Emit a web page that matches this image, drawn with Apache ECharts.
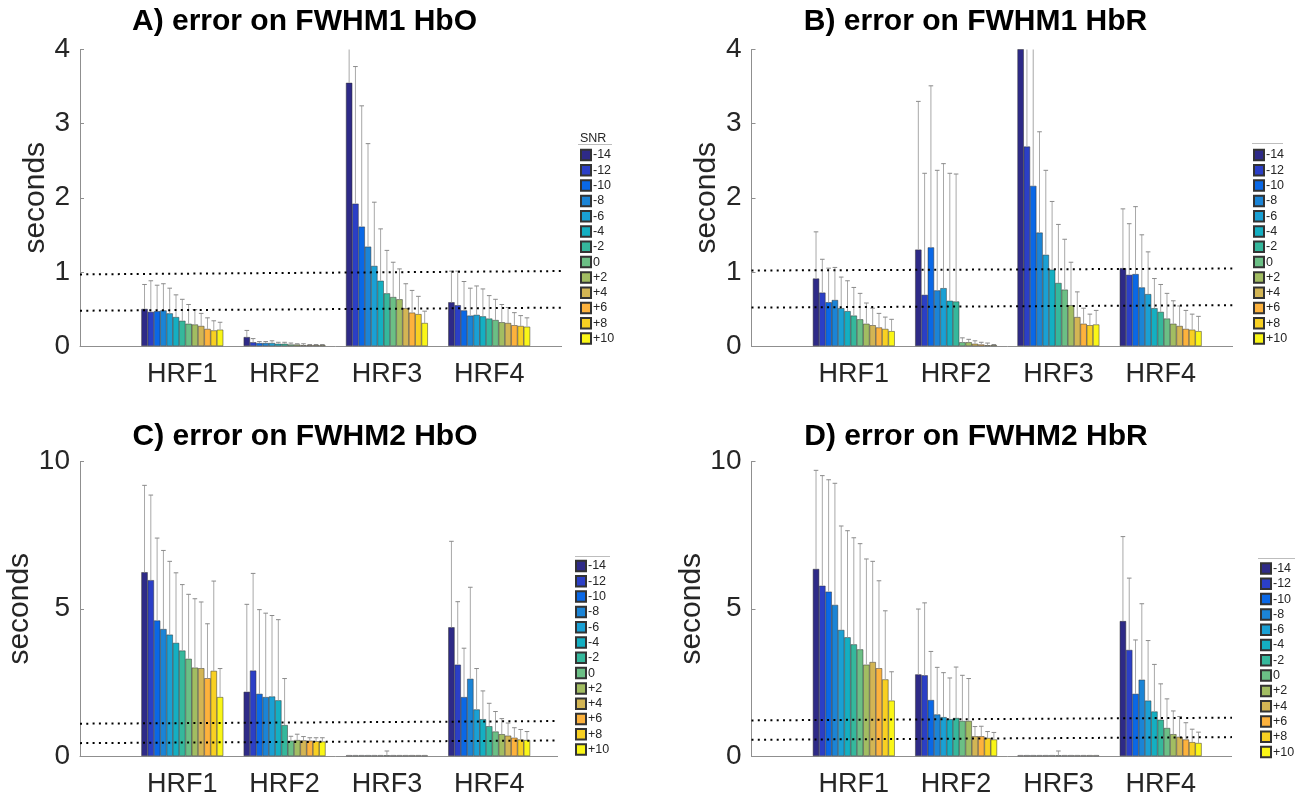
<!DOCTYPE html>
<html><head><meta charset="utf-8">
<script src="https://cdn.jsdelivr.net/npm/echarts@6/dist/echarts.min.js"></script>
<style>html,body{margin:0;padding:0;background:#fff}#c{width:1303px;height:798px}</style>
</head><body><div id="c"></div>
<script>
// ---------------- data ----------------
const categories = ['', 'HRF1', 'HRF2', 'HRF3', 'HRF4', ''];
const snrLevels = ['-14','-12','-10','-8','-6','-4','-2','0','+2','+4','+6','+8','+10'];
const panelTitles = ['A) error on FWHM1 HbO', 'B) error on FWHM1 HbR', 'C) error on FWHM2 HbO', 'D) error on FWHM2 HbR'];
const yAxisName = 'seconds';
const yRangeFWHM1 = [0, 4, 1];   // min, max, tick step
const yRangeFWHM2 = [0, 10, 5];

// mean error per HRF (rows HRF1..HRF4), 13 SNR levels each
const meanA = [
  [0.50,0.46,0.47,0.48,0.44,0.39,0.34,0.30,0.29,0.27,0.23,0.21,0.22],
  [0.12,0.05,0.04,0.04,0.04,0.03,0.03,0.02,0.02,0.01,0.01,0.01,0.01],
  [3.55,1.92,1.61,1.34,1.08,0.88,0.71,0.66,0.63,0.51,0.45,0.43,0.31],
  [0.59,0.55,0.48,0.41,0.42,0.40,0.37,0.35,0.32,0.31,0.28,0.27,0.26]
];
const errA = [
  [0.33,0.42,0.35,0.36,0.34,0.30,0.29,0.26,0.20,0.17,0.15,0.13,0.10],
  [0.09,0.05,0.02,0.02,0.03,0.02,0.02,0.02,0.01,0.02,0.01,0.01,0.01],
  [0.65,1.85,1.63,1.39,0.86,0.70,0.58,0.47,0.41,0.33,0.30,0.24,0.16],
  [0.42,0.46,0.39,0.37,0.39,0.37,0.31,0.28,0.24,0.21,0.17,0.14,0.12]
];
const meanB = [
  [0.91,0.72,0.59,0.62,0.51,0.47,0.41,0.36,0.30,0.28,0.25,0.23,0.20],
  [1.30,0.69,1.33,0.75,0.78,0.61,0.60,0.05,0.05,0.03,0.02,0.01,0.01],
  [4.40,2.69,2.16,1.53,1.23,1.03,0.85,0.76,0.55,0.39,0.30,0.28,0.29],
  [1.05,0.96,0.97,0.79,0.70,0.51,0.46,0.37,0.30,0.27,0.23,0.22,0.20]
];
const errB = [
  [0.63,0.45,0.46,0.44,0.42,0.41,0.38,0.35,0.28,0.23,0.19,0.16,0.16],
  [2.00,1.64,2.18,1.62,1.68,1.72,1.72,0.06,0.04,0.04,0.03,0.03,0.01],
  [1.50,1.60,2.10,1.36,1.14,0.92,0.79,0.68,0.58,0.34,0.21,0.15,0.19],
  [0.80,0.69,0.91,0.71,0.57,0.40,0.37,0.34,0.31,0.27,0.25,0.21,0.20]
];
const meanC = [
  [6.24,5.97,4.60,4.31,4.12,3.84,3.58,3.30,3.00,2.98,2.64,2.89,2.00],
  [2.18,2.90,2.11,2.00,2.02,1.89,1.05,0.52,0.54,0.53,0.52,0.50,0.49],
  [0.02,0.02,0.02,0.02,0.02,0.02,0.02,0.02,0.02,0.02,0.02,0.02,0.02],
  [4.37,3.10,2.00,2.62,1.58,1.25,1.01,0.83,0.74,0.69,0.62,0.56,0.54]
];
const errC = [
  [2.95,2.89,2.80,2.67,2.49,2.38,2.24,2.19,2.34,2.25,1.85,3.05,0.97],
  [2.97,3.30,2.86,2.85,2.75,2.74,1.58,0.15,0.20,0.13,0.10,0.12,0.13],
  [0,0,0,0,0,0,0.15,0,0,0,0,0,0],
  [2.92,2.14,1.66,3.11,1.39,0.96,0.78,0.68,0.53,0.43,0.34,0.34,0.29]
];
const meanD = [
  [6.35,5.78,5.58,5.13,4.28,4.03,3.79,3.62,3.10,3.19,2.98,2.60,1.88],
  [2.77,2.74,1.90,1.41,1.32,1.25,1.29,1.19,1.19,0.67,0.67,0.61,0.56],
  [0.02,0.02,0.02,0.02,0.02,0.02,0.02,0.02,0.02,0.02,0.02,0.02,0.02],
  [4.58,3.60,2.11,2.59,1.88,1.51,1.23,0.95,0.74,0.65,0.56,0.47,0.44]
];
const errD = [
  [3.35,3.74,3.80,4.13,3.53,3.62,3.62,3.59,3.59,3.42,2.97,2.33,0.98],
  [2.22,2.46,1.65,1.60,1.51,1.40,1.73,1.55,1.44,0.33,0.34,0.22,0.24],
  [0,0,0,0,0,0,0.15,0,0,0,0,0,0],
  [2.87,2.44,1.83,2.58,2.04,1.60,1.22,0.99,0.79,0.69,0.57,0.44,0.37]
];
// dotted reference lines: [value at left end, value at right end] (upper, lower)
const refA = [[0.966, 1.014], [0.476, 0.520]];
const refB = [[1.018, 1.047], [0.518, 0.553]];
const refC = [[1.097, 1.193], [0.437, 0.532]];
const refD = [[1.209, 1.307], [0.549, 0.647]];

// ---------------- style / layout ----------------
const palette = ['#2e2a87','#2b3fc6','#0a68e6','#1b84d6','#1aa0d4','#14afc2','#35b89c',
                 '#6bbf85','#a2bd62','#d3b554','#fdb23d','#f8d022','#faf617'];
const FONT = '"Liberation Sans", Arial, Helvetica, sans-serif';
const TXT = '#262626';
const AX = '#8f8f8f';

const panels = [
  {mean: meanA, err: errA, ref: refA, range: yRangeFWHM1,
   grid: {left: 80, top: 49.5, width: 511.5, height: 296.5},
   title: [304.5, 22], legend: {left: 562, top: 146.5, padL: 18}, line: [578, 612, 144.5]},
  {mean: meanB, err: errB, ref: refB, range: yRangeFWHM1,
   grid: {left: 751.5, top: 49.5, width: 511.5, height: 296.5},
   title: [975.5, 22], legend: {left: 1233, top: 146.5, padL: 20}, line: [1252, 1283, 143.5]},
  {mean: meanC, err: errC, ref: refC, range: yRangeFWHM2,
   grid: {left: 80, top: 461.5, width: 511.5, height: 297.5},
   title: [305, 437], legend: {left: 558, top: 557.5, padL: 17}, line: [575, 610, 556.5]},
  {mean: meanD, err: errD, ref: refD, range: yRangeFWHM2,
   grid: {left: 751.5, top: 461.5, width: 511.5, height: 297.5},
   title: [976, 437], legend: {left: 1232, top: 560, padL: 28}, line: [1258, 1295, 558.5]}
];

function errRender(params, api) {
  const c = api.value(0), k = api.value(1), m = api.value(2), e = api.value(3);
  const cs = params.coordSys;
  const p0 = api.coord([c, m]);
  const p1 = api.coord([c, m + e]);
  const band = api.coord([2, 0])[0] - api.coord([1, 0])[0];
  const slot = band * 0.8 / 13;
  const x = p0[0] + (k - 6) * slot;
  const y0 = Math.max(p0[1], cs.y);
  const y1 = Math.max(p1[1], cs.y);
  const children = [];
  if (y0 > y1) children.push({type: 'line', shape: {x1: x, y1: y0, x2: x, y2: y1},
    style: {stroke: '#a8a8a8', lineWidth: 1}});
  if (p1[1] >= cs.y) children.push({type: 'line', shape: {x1: x - 2.3, y1: p1[1], x2: x + 2.3, y2: p1[1]},
    style: {stroke: '#8a8a8a', lineWidth: 1}});
  return {type: 'group', children};
}

const option = {
  animation: false,
  backgroundColor: '#fff',
  grid: panels.map(p => p.grid),
  xAxis: panels.map((p, i) => ({
    type: 'category', gridIndex: i, data: categories, boundaryGap: false,
    axisLine: {lineStyle: {color: AX, width: 1}},
    axisTick: {show: false},
    axisLabel: {color: TXT, fontSize: 27, fontFamily: FONT, margin: 15, interval: 0},
    splitLine: {show: false}
  })),
  yAxis: panels.map((p, i) => ({
    type: 'value', gridIndex: i, min: p.range[0], max: p.range[1], interval: p.range[2],
    name: yAxisName, nameLocation: 'middle', nameGap: 26,
    nameTextStyle: {fontSize: 30, color: TXT, fontFamily: FONT},
    axisLine: {show: true, lineStyle: {color: AX, width: 1}},
    axisTick: {show: true, inside: true, length: 4, lineStyle: {color: AX}},
    axisLabel: {color: TXT, fontSize: 28, fontFamily: FONT, margin: 10},
    splitLine: {show: false}
  })),
  legend: panels.map(p => ({
    orient: 'vertical', left: p.legend.left, top: p.legend.top, z: 20,
    padding: [2, 4, 2, p.legend.padL],
    itemWidth: 10, itemHeight: 10.5, itemGap: 2.3, icon: 'rect',
    backgroundColor: '#fff', selectedMode: false,
    data: snrLevels,
    textStyle: {fontFamily: FONT, fontSize: 12.5, color: TXT, lineHeight: 12, padding: [0, 0, 0, -3]}
  })),
  graphic: [].concat(
    panels.map((p, i) => ({type: 'text', x: p.title[0], y: p.title[1], z: 100,
      style: {text: panelTitles[i], font: 'bold 30px ' + FONT, fill: '#000', align: 'center', verticalAlign: 'middle'}})),
    panels.map(p => ({type: 'line', z: 100, shape: {x1: p.line[0], y1: p.line[2], x2: p.line[1], y2: p.line[2]},
      style: {stroke: '#bdbdbd', lineWidth: 1}})),
    [{type: 'text', x: 580, y: 139, z: 100, style: {text: 'SNR', font: '12.5px ' + FONT, fill: TXT, align: 'left', verticalAlign: 'middle'}}]
  ),
  series: []
};

panels.forEach((p, i) => {
  snrLevels.forEach((name, k) => {
    option.series.push({
      type: 'bar', name, xAxisIndex: i, yAxisIndex: i,
      data: [null].concat(p.mean.map(row => row[k]), [null]),
      barGap: '0%', barCategoryGap: '20%',
      itemStyle: {color: palette[k], borderColor: '#333', borderWidth: 0.5},
      emphasis: {disabled: true}, z: 2
    });
  });
  const ed = [];
  p.mean.forEach((row, c) => row.forEach((m, k) => ed.push([c + 1, k, m, p.err[c][k]])));
  option.series.push({
    type: 'custom', name: 'err' + i, xAxisIndex: i, yAxisIndex: i,
    data: ed, encode: {x: 0, y: 2}, renderItem: errRender, z: 3, silent: true
  });
  p.ref.forEach((r, j) => {
    option.series.push({
      type: 'line', name: 'ref' + i + j, xAxisIndex: i, yAxisIndex: i,
      data: [[0, r[0]], [5, r[1]]], symbol: 'none', silent: true, z: 4,
      lineStyle: {color: '#000', width: 2, type: [2, 4.3]}
    });
  });
});

const chart = echarts.init(document.getElementById('c'), null, {renderer: 'canvas'});
chart.setOption(option);
</script></body></html>
